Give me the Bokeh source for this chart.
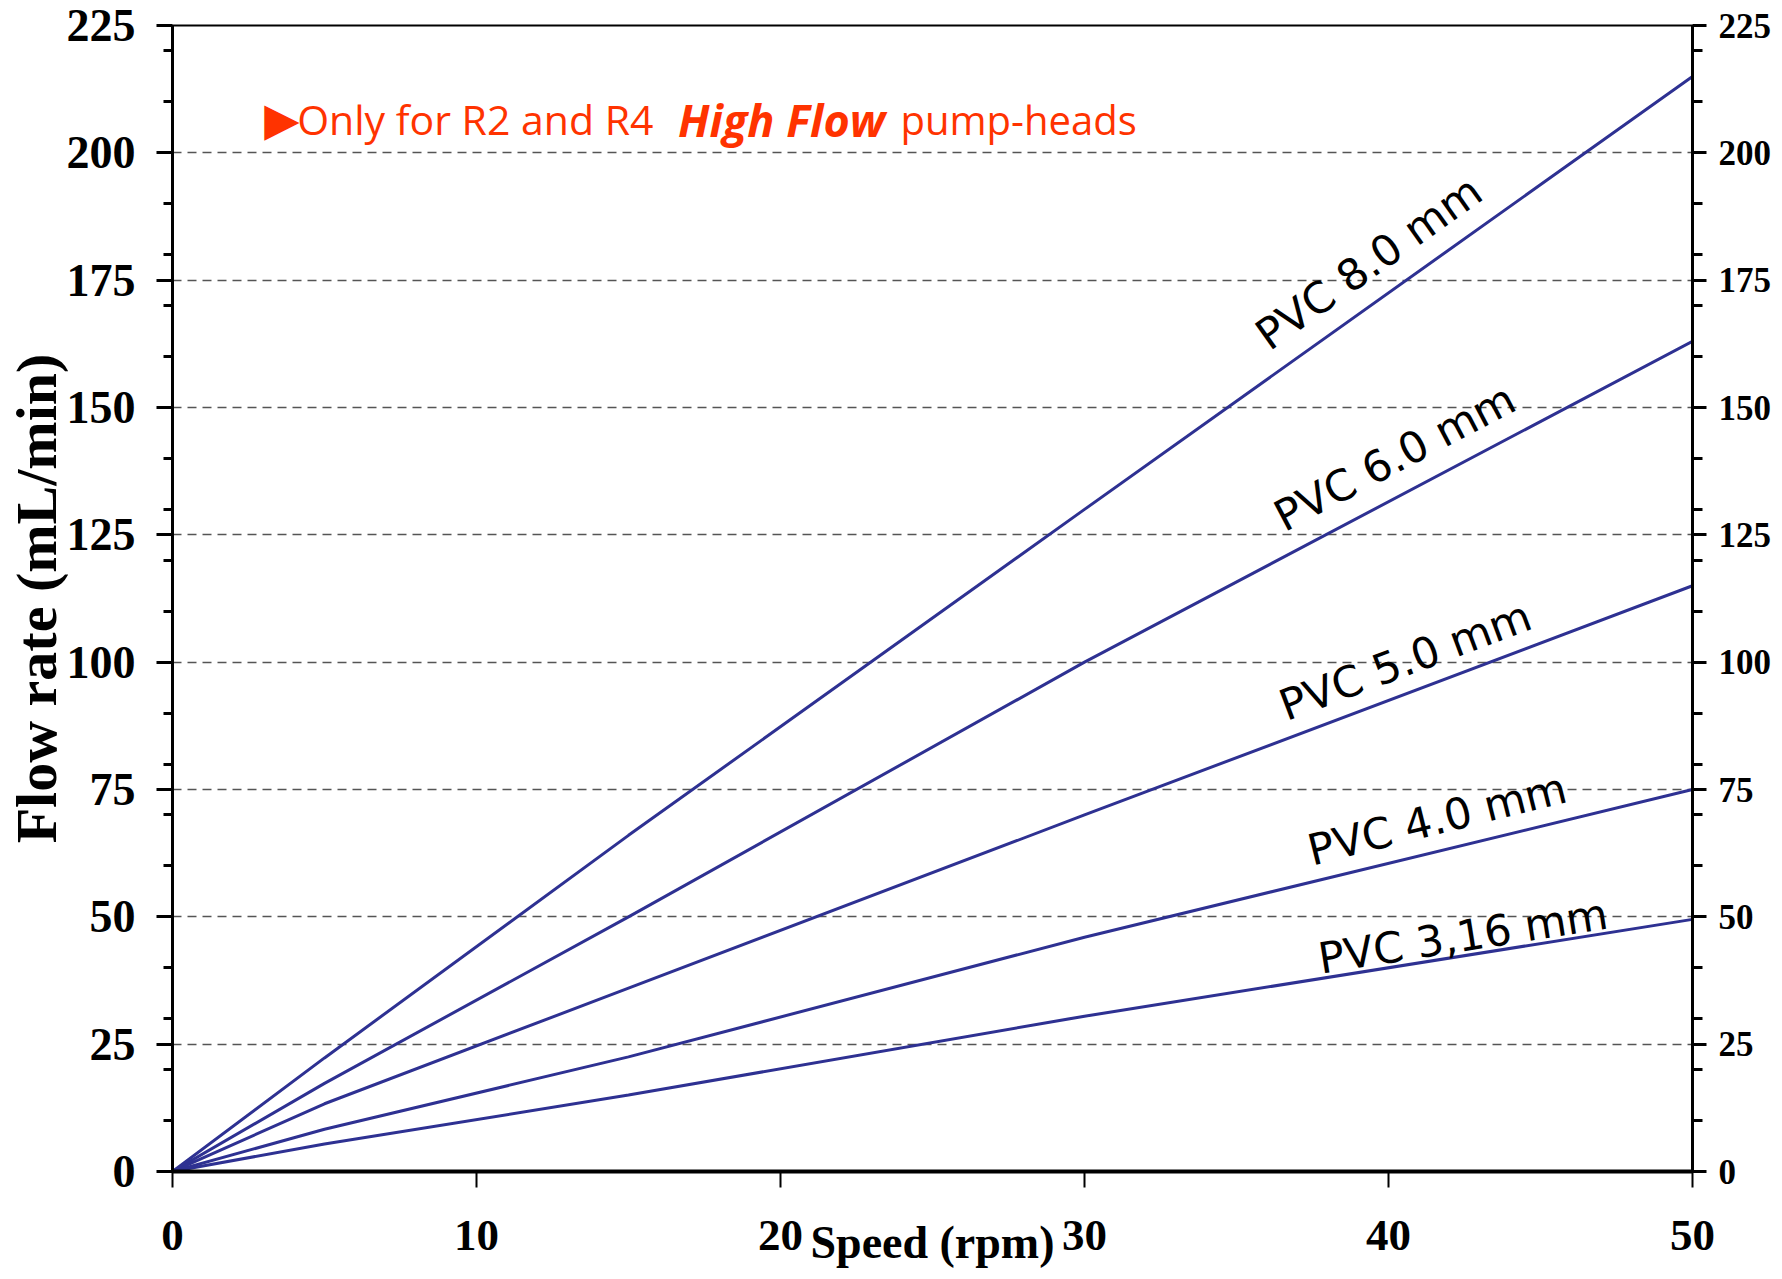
from bokeh.plotting import figure
from bokeh.models import Range1d, LinearAxis, FixedTicker, Label, ColumnDataSource
from bokeh.core.properties import value
from bokeh.embed import file_html
from bokeh.resources import INLINE

# ---- data ----
speed = [0, 5, 15, 30, 50]
pvc_316 = [0, 5.4, 15.0, 30.5, 49.5]
pvc_40 = [0, 8.3, 22.5, 46.0, 75.0]
pvc_50 = [0, 13.3, 36.0, 70.0, 115.0]
pvc_60 = [0, 17.3, 50.0, 100.0, 163.0]
pvc_80 = [0, 22.3, 66.0, 130.0, 215.0]
series = [pvc_316, pvc_40, pvc_50, pvc_60, pvc_80]

tube_names = ["PVC 3,16 mm", "PVC 4.0 mm", "PVC 5.0 mm", "PVC 6.0 mm", "PVC 8.0 mm"]
name_x = [42.45, 41.6, 40.55, 40.2, 39.35]
name_y = [46.2, 69.2, 100.3, 140.2, 178.4]
name_angle = [9.0, 14.0, 20.6, 27.8, 35.4]

x_ticks = [0, 10, 20, 30, 40, 50]
y_ticks = [0, 25, 50, 75, 100, 125, 150, 175, 200, 225]
y_minor = [10, 20, 30, 40, 60, 70, 80, 90, 110, 120, 130, 140, 160, 170, 180, 190, 210, 220]
grid_ticks = [25, 50, 75, 100, 125, 150, 175, 200]

x_title = "Speed (rpm)"
y_title = "Flow rate (mL/min)"
note_parts = ["\u25B6", "Only for R2 and R4", "High Flow", "pump-heads"]

LINE = "#2E3192"
RED = "#FF3300"
SERIF = "Liberation Serif"

p = figure(width=1774, height=1271, output_backend="svg", toolbar_location=None,
           x_range=Range1d(0, 50), y_range=Range1d(0, 225),
           min_border_left=172, min_border_right=81, min_border_top=25, min_border_bottom=100)
p.background_fill_color = "white"
p.border_fill_color = "white"
p.outline_line_color = "black"
p.outline_line_width = 2

# grid
p.xgrid.visible = False
p.ygrid.ticker = FixedTicker(ticks=grid_ticks)
p.ygrid.grid_line_color = "#555555"
p.ygrid.grid_line_width = 1.5
p.ygrid.grid_line_dash = "9 6"

# x axis
xa = p.xaxis[0]
xa.ticker = FixedTicker(ticks=x_ticks)
xa.axis_line_width = 4
xa.major_tick_out = 16
xa.major_tick_in = 0
xa.major_tick_line_width = 2
xa.minor_tick_out = 0
xa.minor_tick_in = 0
xa.major_label_standoff = 33
xa.major_label_text_font = SERIF
xa.major_label_text_font_style = "bold"
xa.major_label_text_font_size = "45px"
xa.major_label_text_color = "black"
xa.axis_label = x_title
xa.axis_label_text_font = SERIF
xa.axis_label_text_font_style = "bold"
xa.axis_label_text_font_size = "46px"
xa.axis_label_text_color = "black"
xa.axis_label_standoff = -36

# left y axis
ya = p.yaxis[0]
ya.ticker = FixedTicker(ticks=y_ticks, minor_ticks=y_minor)
ya.axis_line_width = 3
ya.major_tick_out = 16
ya.major_tick_in = 0
ya.minor_tick_out = 9
ya.minor_tick_in = 0
ya.major_tick_line_width = 3
ya.minor_tick_line_width = 3
ya.major_label_standoff = 21
ya.major_label_text_font = SERIF
ya.major_label_text_font_style = "bold"
ya.major_label_text_font_size = "46px"
ya.major_label_text_color = "black"
ya.axis_label = y_title
ya.axis_label_text_font = SERIF
ya.axis_label_text_font_style = "bold"
ya.axis_label_text_font_size = "58px"
ya.axis_label_text_color = "black"
ya.axis_label_standoff = -5

# right y axis
ra = LinearAxis(ticker=FixedTicker(ticks=y_ticks, minor_ticks=y_minor))
ra.axis_line_width = 3
ra.major_tick_out = 14
ra.major_tick_in = 0
ra.minor_tick_out = 10
ra.minor_tick_in = 0
ra.major_tick_line_width = 3
ra.minor_tick_line_width = 3
ra.major_label_standoff = 12
ra.major_label_text_font = SERIF
ra.major_label_text_font_style = "bold"
ra.major_label_text_font_size = "35px"
ra.major_label_text_color = "black"
p.add_layout(ra, "right")

# lines
for ys in series:
    p.line(speed, ys, line_color=LINE, line_width=3)

# tube labels
src = ColumnDataSource(dict(x=name_x, y=name_y, text=tube_names, angle=name_angle))
p.text(x="x", y="y", text="text", angle="angle", angle_units="deg", source=src,
       text_font=value("DejaVu Sans"), text_font_size="43px", text_color="black",
       text_align="center", text_baseline="middle")

# red note
p.add_layout(Label(x=3.02, y=206.6, text=note_parts[0], text_font="DejaVu Sans",
                   text_font_size="46px", text_color=RED, text_baseline="middle"))
p.add_layout(Label(x=4.1, y=206.6, text=note_parts[1], text_font="Open Sans",
                   text_font_size="41px", text_color=RED, text_baseline="alphabetic"))
p.add_layout(Label(x=16.63, y=206.6, text=note_parts[2], text_font="Open Sans",
                   text_font_style="bold italic",
                   text_font_size="45px", text_color=RED, text_baseline="alphabetic"))
p.add_layout(Label(x=23.95, y=206.6, text=note_parts[3], text_font="Open Sans",
                   text_font_size="40px", text_color=RED, text_baseline="alphabetic"))

open("out.html", "w").write(file_html(p, INLINE))
